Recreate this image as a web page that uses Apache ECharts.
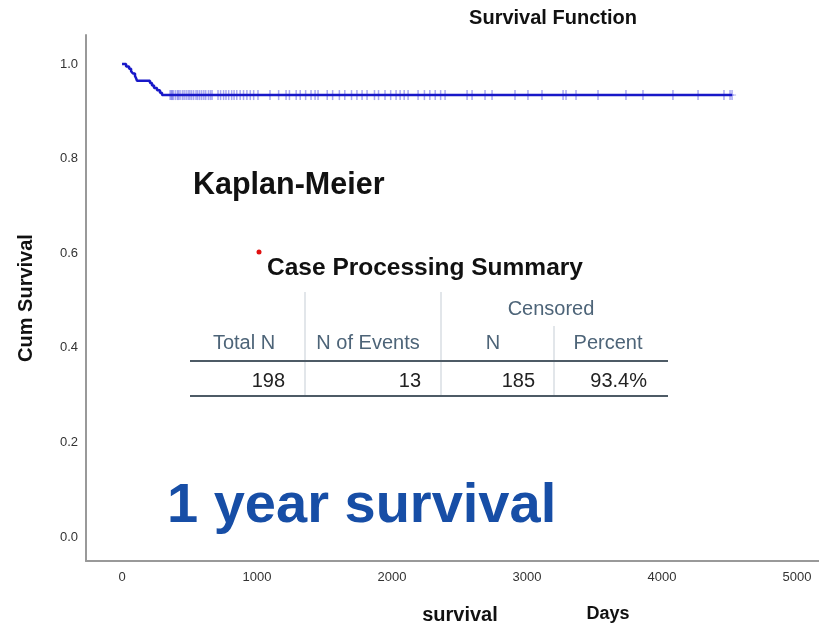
<!DOCTYPE html>
<html>
<head>
<meta charset="utf-8">
<script src="https://cdn.jsdelivr.net/npm/echarts@6/dist/echarts.min.js"></script>
<style>
  html, body { margin: 0; padding: 0; background: #fff; }
  #chart { width: 819px; height: 629px; }
</style>
</head>
<body>
<div id="chart"></div>
<script>
const FONT = "'Liberation Sans', Arial, sans-serif";

// case summary
const totalN = 198;
const eventTimes = [30, 52, 67, 81, 96, 104, 111, 207, 222, 237, 259, 281, 296];
const censorTimes = [
  356, 365, 372, 380, 395, 410, 418, 430, 447, 460, 475, 490, 502, 515, 530, 548, 560, 575, 590, 606, 620, 640, 655, 667,
  711, 730, 752, 770, 790, 812, 830, 850, 875, 900, 925, 950, 975, 1007,
  1096, 1160, 1215, 1240, 1290, 1320, 1360, 1400, 1430,
  1452, 1520, 1560, 1610, 1650, 1700, 1740, 1778,
  1815, 1870, 1900, 1948, 1990, 2030, 2060, 2090, 2119,
  2193, 2240, 2280, 2320, 2360, 2393,
  2556, 2593, 2689, 2741, 2911, 3007, 3111, 3267, 3289, 3363, 3526, 3733, 3859, 4081, 4267, 4459, 4504, 4519
];
const xLabels = [0, 1000, 2000, 3000, 4000, 5000];
const yLabels = [0, 0.2, 0.4, 0.6, 0.8, 1.0];

const tableHeaders = ["Total N", "N of Events", "N", "Percent"];
const tableValues = ["198", "13", "185", "93.4%"];

// Kaplan-Meier steps (all events occur before the first censoring)
const curve = [[0, 1]];
let s = 1;
eventTimes.forEach((t, i) => {
  s = s * (1 - 1 / (totalN - i));
  curve.push([t, s]);
});
const lastTime = Math.max(...censorTimes);
curve.push([lastTime, s]);
const censorPoints = censorTimes.map(t => [t, s]);

const chart = echarts.init(document.getElementById("chart"), null, { renderer: "canvas" });

// table geometry
const colCenters = [244, 368, 493, 608];
const valueRight = [285, 421, 535, 647];
const hdr = "#4d6478";

const graphic = [
  { type: "text", x: 553, y: 18, style: { text: "Survival Function", font: "bold 20px " + FONT, fill: "#111", textAlign: "center", textVerticalAlign: "middle" } },
  { type: "text", x: 193, y: 186, style: { text: "Kaplan-Meier", font: "bold 30.5px " + FONT, fill: "#111", textVerticalAlign: "middle" } },
  { type: "circle", shape: { cx: 259, cy: 252, r: 2.5 }, style: { fill: "#e01010" } },
  { type: "text", x: 267, y: 268, style: { text: "Case Processing Summary", font: "bold 24.5px " + FONT, fill: "#111", textVerticalAlign: "middle" } },
  { type: "line", shape: { x1: 305, y1: 292, x2: 305, y2: 396 }, style: { stroke: "#d9dee3", lineWidth: 1.5 } },
  { type: "line", shape: { x1: 441, y1: 292, x2: 441, y2: 396 }, style: { stroke: "#d9dee3", lineWidth: 1.5 } },
  { type: "line", shape: { x1: 554, y1: 326, x2: 554, y2: 396 }, style: { stroke: "#d9dee3", lineWidth: 1.5 } },
  { type: "line", shape: { x1: 190, y1: 361, x2: 668, y2: 361 }, style: { stroke: "#4e5b66", lineWidth: 2 } },
  { type: "line", shape: { x1: 190, y1: 396, x2: 668, y2: 396 }, style: { stroke: "#4e5b66", lineWidth: 2 } },
  { type: "text", x: 551, y: 309, style: { text: "Censored", font: "20px " + FONT, fill: hdr, textAlign: "center", textVerticalAlign: "middle" } },
  ...tableHeaders.map((h, i) => ({ type: "text", x: colCenters[i], y: 343, style: { text: h, font: "20px " + FONT, fill: hdr, textAlign: "center", textVerticalAlign: "middle" } })),
  ...tableValues.map((v, i) => ({ type: "text", x: valueRight[i], y: 381, style: { text: v, font: "20px " + FONT, fill: "#222", textAlign: "right", textVerticalAlign: "middle" } })),
  { type: "text", x: 167, y: 507, style: { text: "1 year survival", font: "bold 56px " + FONT, fill: "#174ea6", textVerticalAlign: "middle" } },
  { type: "text", x: 460, y: 615, style: { text: "survival", font: "bold 20px " + FONT, fill: "#111", textAlign: "center", textVerticalAlign: "middle" } },
  { type: "text", x: 608, y: 614, style: { text: "Days", font: "bold 18px " + FONT, fill: "#111", textAlign: "center", textVerticalAlign: "middle" } }
];

chart.setOption({
  animation: false,
  backgroundColor: "#fff",
  grid: { left: 86, right: 0, top: 35, bottom: 68, containLabel: false },
  xAxis: {
    type: "value", min: -267, max: 5163,
    axisLine: { show: true, onZero: false, lineStyle: { color: "#999", width: 2 } },
    axisTick: { show: false },
    splitLine: { show: false },
    axisLabel: { customValues: xLabels, color: "#333", fontSize: 13, fontFamily: FONT, margin: 10, formatter: v => String(v) }
  },
  yAxis: {
    type: "value", min: -0.0507, max: 1.0613,
    name: "Cum Survival", nameLocation: "middle", nameGap: 50, nameRotate: 90,
    nameTextStyle: { fontSize: 20, fontWeight: "bold", color: "#111", fontFamily: FONT },
    axisLine: { show: true, onZero: false, lineStyle: { color: "#999", width: 2 } },
    axisTick: { show: false },
    splitLine: { show: false },
    axisLabel: { customValues: yLabels, color: "#333", fontSize: 13, fontFamily: FONT, margin: 8, formatter: v => v.toFixed(1) }
  },
  series: [
    {
      type: "line", data: curve, step: "end", showSymbol: false,
      lineStyle: { color: "#1818c8", width: 2.5 }, z: 3
    },
    {
      type: "scatter", data: censorPoints, symbol: "rect", symbolSize: [1.5, 10],
      itemStyle: { color: "rgba(60,60,220,0.55)" }, z: 2
    },
    {
      type: "scatter", data: censorPoints, symbol: "rect", symbolSize: [8, 1.5],
      itemStyle: { color: "rgba(60,60,220,0.35)" }, z: 2
    }
  ],
  graphic
});
</script>
</body>
</html>
